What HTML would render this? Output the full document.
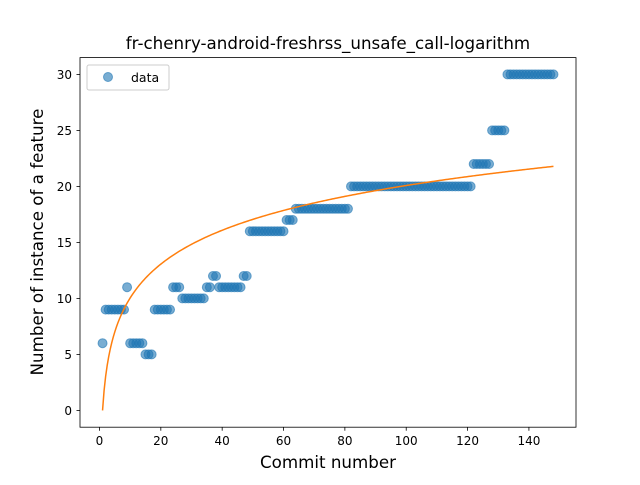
<!DOCTYPE html>
<html><head><meta charset="utf-8"><style>body{margin:0;background:#fff}svg text{font-family:"DejaVu Sans","Liberation Sans",sans-serif}</style></head>
<body>
<svg id="chart" width="640" height="480" xmlns="http://www.w3.org/2000/svg">
<rect width="640" height="480" fill="#fff"/>
<text x="328" y="49" font-size="16.7" text-anchor="middle">fr-chenry-android-freshrss_unsafe_call-logarithm</text>
<g id="plot"></g>
<rect x="80" y="57.6" width="496" height="369.6" fill="none" stroke="#000" stroke-width="0.8"/>
<text x="328" y="468" font-size="16.7" text-anchor="middle">Commit number</text>
<text transform="translate(43,242) rotate(-90)" font-size="16.7" text-anchor="middle">Number of instance of a feature</text>
<g>
<rect x="87" y="65" width="82" height="25" rx="2" fill="#fff" fill-opacity="0.8" stroke="#ccc"/>
<circle cx="108" cy="77" r="4.5" fill="#1f77b4" fill-opacity="0.6" stroke="#1f77b4" stroke-opacity="0.6"/>
<text x="131" y="82" font-size="12.5">data</text>
</g>
</svg>
<script>
const runs = [[1,1,6],[2,8,9],[9,9,11],[10,14,6],[15,17,5],[18,23,9],[24,26,11],[27,34,10],[35,36,11],[37,38,12],[39,46,11],[47,48,12],[49,60,16],[61,63,17],[64,81,18],[82,121,20],[122,127,22],[128,132,25],[133,148,30]];
const xTicks = [0,20,40,60,80,100,120,140];
const yTicks = [0,5,10,15,20,25,30];
const fitCoef = 4.36;
const xs=[], ys=[];
runs.forEach(r=>{for(let x=r[0];x<=r[1];x++){xs.push(x);ys.push(r[2]);}});
const X=v=>80+(v+6.35)*496/161.7, Y=v=>427.2-(v+1.5)*369.6/33;
const g=document.getElementById('plot'), NS='http://www.w3.org/2000/svg';
function mk(t,a){const e=document.createElementNS(NS,t);for(const k in a)e.setAttribute(k,a[k]);g.appendChild(e);return e;}
xTicks.forEach(t=>{
  const l=mk('line',{x1:X(t),x2:X(t),y1:427.2,y2:430.7,stroke:'#000','stroke-width':0.8});
  
  
  const s=mk('text',{x:X(t),y:445,'font-size':12,'text-anchor':'middle'});s.textContent=t;
  
  
});
yTicks.forEach(t=>{
  const l=mk('line',{x1:76.5,x2:80,y1:Y(t),y2:Y(t),stroke:'#000','stroke-width':0.8});
  
  
  const s=mk('text',{x:72,y:Y(t)+4.5,'font-size':12,'text-anchor':'end'});s.textContent=t;
  
  
});
xs.forEach((x,i)=>{
  const c=mk('circle',{cx:X(x),cy:Y(ys[i]),r:4.5,fill:'#1f77b4','fill-opacity':0.6,stroke:'#1f77b4','stroke-opacity':0.6});
  
  
});
let d='';
for(let x=1;x<=148;x+=0.5){d+=(d?'L':'M')+X(x).toFixed(2)+','+Y(fitCoef*Math.log(x)).toFixed(2);}
const p=mk('path',{d:d,fill:'none',stroke:'#ff7f0e','stroke-width':1.5});


</script>
</body></html>
